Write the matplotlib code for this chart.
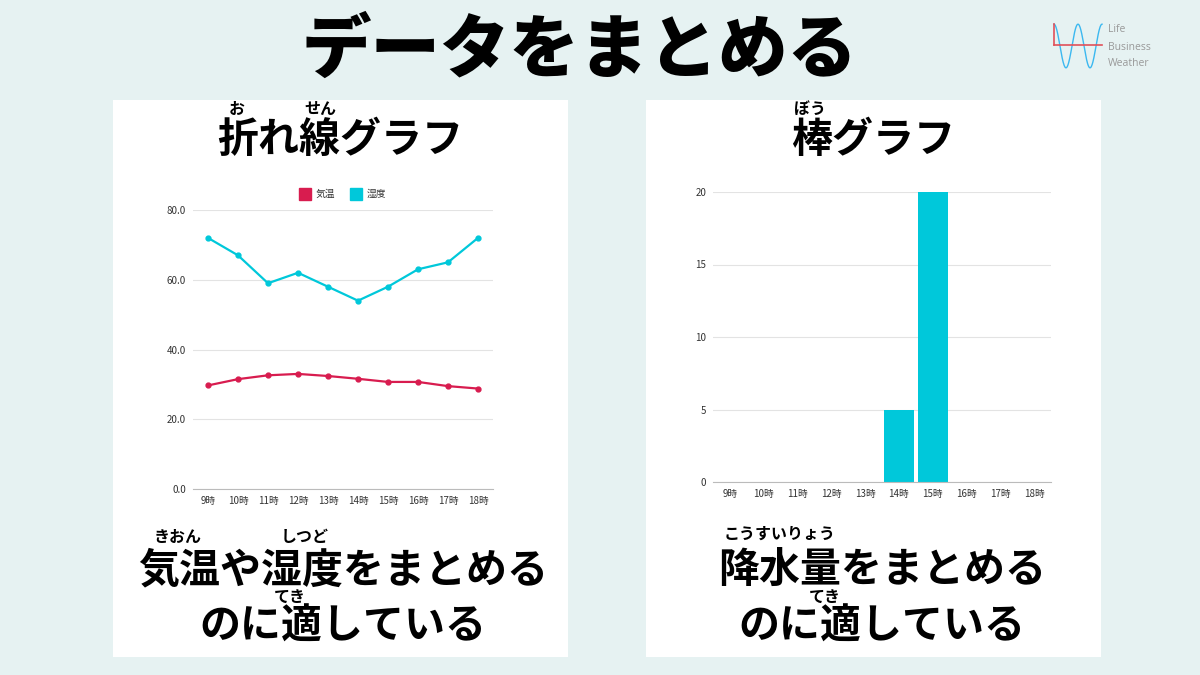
import matplotlib as mpl
import matplotlib.pyplot as plt
from matplotlib.patches import Rectangle
from matplotlib.lines import Line2D
import numpy as np

plt.rcParams['font.family'] = ['Noto Sans CJK JP', 'DejaVu Sans']

hours = ['9時', '10時', '11時', '12時', '13時', '14時', '15時', '16時', '17時', '18時']
temperature = [29.7, 31.5, 32.6, 33.0, 32.4, 31.6, 30.7, 30.7, 29.5, 28.8]
humidity = [72, 67, 59, 62, 58, 54, 58, 63, 65, 72]
rainfall = [0, 0, 0, 0, 0, 5, 20, 0, 0, 0]

BG = '#e6f2f2'
RED = '#d81c4f'
CYAN = '#00c8da'
W, H = 1200, 675


def fx(x):
    return x / W


def fy(y):
    return 1 - y / H


def txt(x, y, s, size, weight='bold', color='black', **kw):
    fig.text(fx(x), fy(y), s, fontsize=size, fontweight=weight, color=color,
             ha='center', va='center', **kw)


fig = plt.figure(figsize=(12, 6.75), dpi=100, facecolor=BG)

# white panels
for x0 in (113, 646):
    fig.patches.append(Rectangle((fx(x0), fy(657)), 455 / W, 557 / H,
                                 transform=fig.transFigure, fc='white', ec='none', zorder=-5))

# main title
txt(580, 51, 'データをまとめる', 50, weight='heavy')

# logo
lg = fig.add_axes([fx(1053), fy(70), 50 / W, 48 / H])
lg.set_axis_off()
t = np.linspace(0, 1, 200)
lg.plot(t, np.cos(2 * np.pi * 2 * t), color='#3bb8f0', lw=1)
lg.plot([0, 1], [0.05, 0.05], color='#e0505a', lw=1.2)
lg.plot([0, 0], [0.05, 1], color='#e0505a', lw=1.2)
lg.set_xlim(-0.02, 1.02)
lg.set_ylim(-1.1, 1.1)
for yy, s in [(29, 'Life'), (47, 'Business'), (64, 'Weather')]:
    fig.text(fx(1108), fy(yy), s, fontsize=7.5, color='#999999', ha='left', va='center',
             family=['Open Sans', 'DejaVu Sans'])

# left panel titles
txt(340, 140, '折れ線グラフ', 29.5)
txt(237, 109, 'お', 11.5)
txt(320, 109, 'せん', 11.5)
txt(343, 570, '気温や湿度をまとめる', 29.5)
txt(178, 537, 'きおん', 11.5)
txt(305, 537, 'しつど', 11.5)
txt(343, 627, 'のに適している', 29.5)
txt(290, 597, 'てき', 11.5)

# right panel titles
txt(873, 140, '棒グラフ', 29.5)
txt(810, 109, 'ぼう', 11.5)
txt(882, 570, '降水量をまとめる', 29.5)
txt(780, 534, 'こうすいりょう', 11.5)
txt(882, 627, 'のに適している', 29.5)
txt(825, 597, 'てき', 11.5)


def style(ax):
    for s in ('top', 'right', 'left'):
        ax.spines[s].set_visible(False)
    ax.spines['bottom'].set_color('#bbbbbb')
    ax.spines['bottom'].set_linewidth(0.8)
    ax.tick_params(length=0, labelsize=7, colors='#333333', pad=5)
    ax.grid(axis='y', color='#e3e3e3', lw=0.8)
    ax.set_axisbelow(True)
    ax.set_facecolor('none')


# line chart
ax1 = fig.add_axes([fx(193), fy(489), 300 / W, 279 / H])
x = np.arange(len(hours))
ax1.plot(x, temperature, color=RED, lw=1.6, marker='o', ms=3.5, label='気温')
ax1.plot(x, humidity, color=CYAN, lw=1.6, marker='o', ms=3.5, label='湿度')
ax1.set_xlim(-0.5, len(hours) - 0.5)
ax1.set_ylim(0, 80)
ax1.set_yticks([0, 20, 40, 60, 80])
ax1.set_yticklabels([f'{v:.1f}' for v in [0, 20, 40, 60, 80]])
ax1.set_xticks(x)
ax1.set_xticklabels(hours)
style(ax1)
handles = [Line2D([], [], ls='none', marker='s', ms=8, color=RED),
           Line2D([], [], ls='none', marker='s', ms=8, color=CYAN)]
ax1.legend(handles, ['気温', '湿度'], loc='center', bbox_to_anchor=(0.5, 1.057), ncol=2,
           frameon=False, fontsize=7, handletextpad=0.6, columnspacing=1.6, handlelength=1,
           labelcolor='#333333')

# bar chart
ax2 = fig.add_axes([fx(713), fy(482), 338 / W, 290 / H])
ax2.bar(x, rainfall, width=0.88, color=CYAN)
ax2.set_xlim(-0.5, len(hours) - 0.5)
ax2.set_ylim(0, 20)
ax2.set_yticks([0, 5, 10, 15, 20])
ax2.set_xticks(x)
ax2.set_xticklabels(hours)
style(ax2)

fig.savefig('out.png', dpi=100, facecolor=BG)
